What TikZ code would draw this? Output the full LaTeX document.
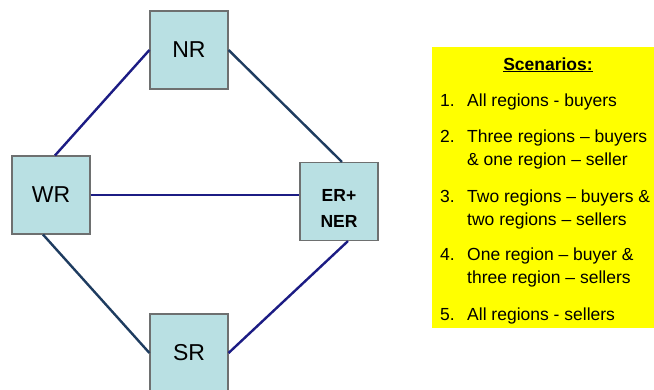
\documentclass[tikz,border=0pt]{standalone}
\usepackage{fontspec}
\setmainfont{Liberation Sans}
\definecolor{boxfill}{HTML}{B9E0E3}
\definecolor{boxedge}{HTML}{6E7070}
\definecolor{navyline}{HTML}{1C1C84}
\definecolor{tealline}{HTML}{1E3C60}
\definecolor{panel}{HTML}{FFFF00}
\begin{document}
\begin{tikzpicture}[x=1pt,y=-1pt,
  region/.style={draw=boxedge,line width=1.1pt,fill=boxfill,minimum width=78pt,minimum height=78pt,inner sep=0pt,font=\fontsize{23}{26}\selectfont},
  link/.style={line width=2.4pt},
  item/.style={anchor=base west,inner sep=0pt,font=\fontsize{17.5}{20}\selectfont}]
\useasboundingbox (0,0) rectangle (654,389);
\fill[white] (0,0) rectangle (654,389);
% regions
\node[region] (nr) at (189,50) {NR};
\node[region] (wr) at (51,195) {WR};
\node[region,label={[font=\bfseries\fontsize{17.5}{26}\selectfont,align=center,yshift=-7pt]center:ER+\\NER}] (er) at (339,201.5) {};
\node[region] (sr) at (189,353) {SR};
% links
\draw[link,navyline] ([xshift=4pt]wr.north) -- (nr.west);
\draw[link,tealline] (nr.east) -- ([xshift=3pt]er.north);
\draw[link,navyline] (wr.east) -- (wr.east -| er.west);
\draw[link,tealline] ([xshift=-8pt]wr.south) -- (sr.west);
\draw[link,navyline] ([xshift=9pt]er.south) -- (sr.east);
% scenarios panel
\fill[panel] (432,47) rectangle (654,328);
\node[anchor=base,inner sep=0pt,font=\bfseries\fontsize{17.5}{20}\selectfont] (title) at (548,70) {\underline{Scenarios:}};
\node[item] (n1) at (440,106.7) {1.};
\node[item] (t1) at (467,106.7) {All regions - buyers};
\node[item] (n2) at (440,142) {2.};
\node[item] (t2a) at (467,142) {Three regions – buyers};
\node[item] (t2b) at (467,165) {\& one region – seller};
\node[item] (n3) at (440,202) {3.};
\node[item] (t3a) at (467,202) {Two regions – buyers \&};
\node[item] (t3b) at (467,225) {two regions – sellers};
\node[item] (n4) at (440,260) {4.};
\node[item] (t4a) at (467,260) {One region – buyer \&};
\node[item] (t4b) at (467,283) {three region – sellers};
\node[item] (n5) at (440,320) {5.};
\node[item] (t5) at (467,320) {All regions - sellers};
\end{tikzpicture}
\end{document}
